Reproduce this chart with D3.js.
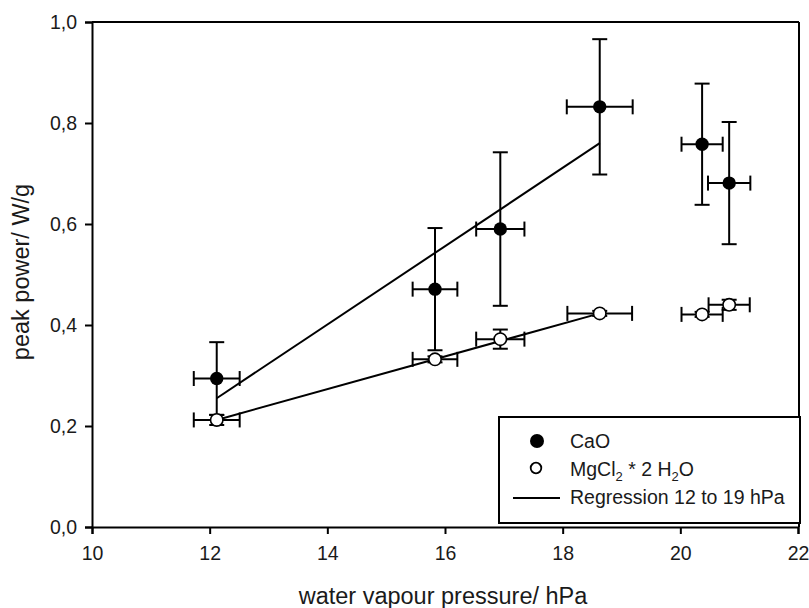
<!DOCTYPE html>
<html><head><meta charset="utf-8">
<script src="https://cdn.jsdelivr.net/npm/d3@7"></script>
<style>
body{margin:0;background:#fff;}
text{font-family:Arial,"Liberation Sans",sans-serif;fill:#1a1a1a;}
</style></head>
<body><svg id="c" width="809" height="608"></svg>
<script>
const pressure = [12.12, 15.83, 16.94, 18.63, 20.37, 20.83];
const pressureErr = [0.39, 0.38, 0.41, 0.56, 0.35, 0.36];
const caoPower = [0.294, 0.471, 0.590, 0.832, 0.758, 0.681];
const caoErr = [0.072, 0.121, 0.152, 0.134, 0.120, 0.121];
const mgPower = [0.212, 0.332, 0.372, 0.423, 0.421, 0.440];
const mgErr = [0.010, 0.006, 0.019, 0.005, 0.005, 0.010];
const mgPressureErr = [0.39, 0.38, 0.41, 0.55, 0.35, 0.35];
const regX = [12.12, 18.63];
const regCaO = [0.255, 0.760];
const regMg = [0.212, 0.423];
const xTicks = [10, 12, 14, 16, 18, 20, 22];
const yTicks = [0, 0.2, 0.4, 0.6, 0.8, 1.0];

const svg = d3.select("#c");
const x = d3.scaleLinear().domain([10, 22]).range([92, 798]);
const y = d3.scaleLinear().domain([0, 1]).range([527, 22]);

// frame top/right
svg.append("line").attr("x1", 92).attr("x2", 799).attr("y1", 22).attr("y2", 22).attr("stroke", "#000").attr("stroke-width", 2);
svg.append("line").attr("x1", 799).attr("x2", 799).attr("y1", 22).attr("y2", 527).attr("stroke", "#000").attr("stroke-width", 2);

const fmt = d => d.toFixed(1).replace(".", ",");
const gx = svg.append("g").attr("transform", "translate(0,527)")
  .call(d3.axisBottom(x).tickValues(xTicks).tickSize(7).tickPadding(12).tickFormat(d3.format("d")));
const gy = svg.append("g").attr("transform", "translate(92,0)")
  .call(d3.axisLeft(y).tickValues(yTicks).tickSize(7).tickPadding(8).tickFormat(fmt));
[gx, gy].forEach(g => {
  g.select(".domain").attr("stroke", "#000").attr("stroke-width", 2);
  g.selectAll(".tick line").attr("stroke", "#000").attr("stroke-width", 2);
  g.selectAll(".tick text").style("font-size", "19.5px").style("font-family", "Arial, 'Liberation Sans', sans-serif").attr("fill", "#1a1a1a");
});

svg.append("text").attr("x", 443).attr("y", 604).attr("text-anchor", "middle").style("font-size", "23.5px").text("water vapour pressure/ hPa");
svg.append("text").attr("transform", "translate(29,272) rotate(-90)").attr("text-anchor", "middle").style("font-size", "23.5px").text("peak power/ W/g");

const plot = svg.append("g");
const cap = 7.5;
function errBars(vals, errs, xerrs) {
  pressure.forEach((p, i) => {
    const cx = x(p), cy = y(vals[i]);
    const y0 = y(vals[i] - errs[i]), y1 = y(vals[i] + errs[i]);
    const x0 = x(p - xerrs[i]), x1 = x(p + xerrs[i]);
    const g = plot.append("g").attr("stroke", "#000").attr("stroke-width", 2);
    g.append("line").attr("x1", cx).attr("x2", cx).attr("y1", y0).attr("y2", y1);
    g.append("line").attr("x1", cx - cap).attr("x2", cx + cap).attr("y1", y0).attr("y2", y0);
    g.append("line").attr("x1", cx - cap).attr("x2", cx + cap).attr("y1", y1).attr("y2", y1);
    g.append("line").attr("x1", x0).attr("x2", x1).attr("y1", cy).attr("y2", cy);
    g.append("line").attr("x1", x0).attr("x2", x0).attr("y1", cy - cap).attr("y2", cy + cap);
    g.append("line").attr("x1", x1).attr("x2", x1).attr("y1", cy - cap).attr("y2", cy + cap);
  });
}
errBars(caoPower, caoErr, pressureErr);
errBars(mgPower, mgErr, mgPressureErr);

const line = d3.line().x(d => x(d[0])).y(d => y(d[1]));
[regCaO, regMg].forEach(r => {
  plot.append("path").attr("d", line(regX.map((v, i) => [v, r[i]])))
    .attr("fill", "none").attr("stroke", "#000").attr("stroke-width", 2);
});

plot.selectAll(".cao").data(pressure).enter().append("circle")
  .attr("cx", d => x(d)).attr("cy", (d, i) => y(caoPower[i])).attr("r", 6.7).attr("fill", "#000");
plot.selectAll(".mg").data(pressure).enter().append("circle")
  .attr("cx", d => x(d)).attr("cy", (d, i) => y(mgPower[i])).attr("r", 6.2).attr("fill", "#fff").attr("stroke", "#000").attr("stroke-width", 1.6);

// legend
const lg = svg.append("g");
lg.append("rect").attr("x", 499).attr("y", 417).attr("width", 301).attr("height", 106)
  .attr("fill", "#fff").attr("stroke", "#000").attr("stroke-width", 2);
lg.append("circle").attr("cx", 537).attr("cy", 441).attr("r", 7).attr("fill", "#000");
lg.append("circle").attr("cx", 536).attr("cy", 468).attr("r", 5.3).attr("fill", "#fff").attr("stroke", "#000").attr("stroke-width", 1.8);
lg.append("line").attr("x1", 513).attr("x2", 560).attr("y1", 498).attr("y2", 498).attr("stroke", "#000").attr("stroke-width", 2);
lg.append("text").attr("x", 570).attr("y", 448).style("font-size", "19.5px").text("CaO");
const t2 = lg.append("text").attr("x", 570).attr("y", 476).style("font-size", "19.5px");
t2.append("tspan").text("MgCl");
t2.append("tspan").attr("dy", 5).style("font-size", "13px").text("2");
t2.append("tspan").attr("dy", -5).text(" * 2 H");
t2.append("tspan").attr("dy", 5).style("font-size", "13px").text("2");
t2.append("tspan").attr("dy", -5).text("O");
lg.append("text").attr("x", 570).attr("y", 504).style("font-size", "19.5px").text("Regression 12 to 19 hPa");
</script></body></html>
